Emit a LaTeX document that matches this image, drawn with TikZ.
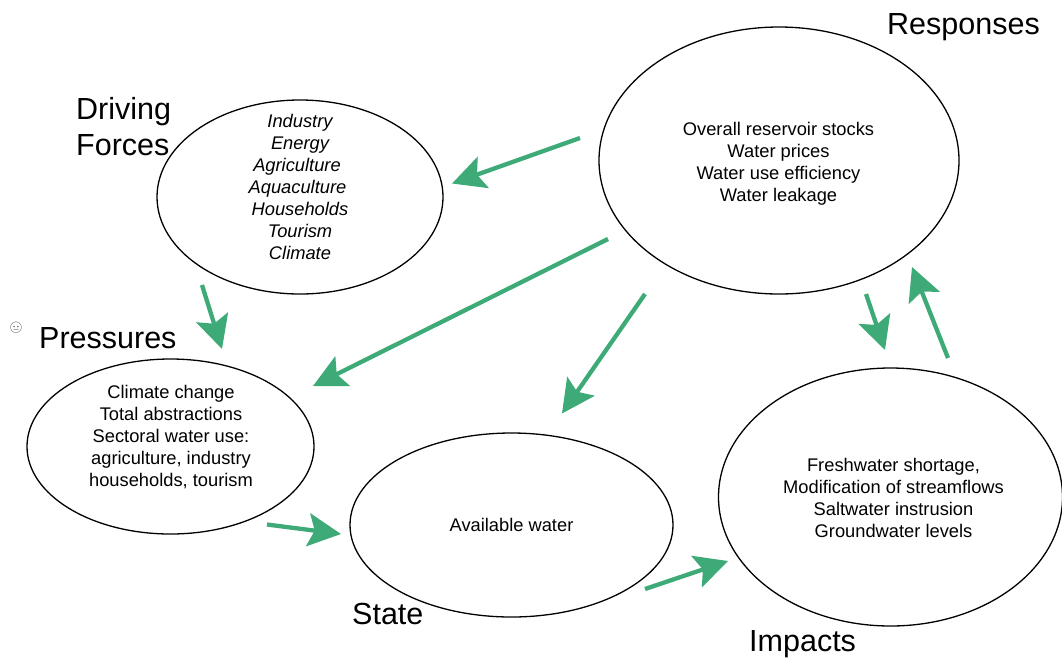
\documentclass[tikz,border=0pt]{standalone}
\usepackage{fontspec}
\setmainfont{Liberation Sans}
\newfontfamily\emojifont{Noto Emoji}
\usetikzlibrary{arrows.meta,shapes.geometric}
\definecolor{grn}{RGB}{62,170,120}
\tikzset{
  blob/.style={draw=black,line width=1.3pt,ellipse,inner sep=0pt,outer sep=0pt,align=center,
    font=\fontsize{18.3}{22}\selectfont},
  head/.style={font=\fontsize{30.5}{36}\selectfont,align=left,inner sep=0pt,anchor=north west},
  flow/.style={draw=grn,line width=4.3pt,-{Stealth[length=33pt,width=33pt,inset=6.5pt]}}
}
\begin{document}
\begin{tikzpicture}[x=1pt,y=-1pt]
\useasboundingbox (0,0) rectangle (1062,657);
\node[blob,minimum width=286pt,minimum height=194pt] (forces) at (300,197) {};
\node[font=\fontsize{18.3}{22}\selectfont\itshape,align=center] (forcestext) at (300,187) {Industry\\Energy\\Agriculture\kern6pt\\Aquaculture\kern5pt\\Households\\Tourism\\Climate};
\node[blob,minimum width=360pt,minimum height=267pt] (responses) at (779,160.5) {};
\node[font=\fontsize{18.3}{22}\selectfont,align=center] (responsestext) at (778.5,164) {Overall reservoir stocks\\Water prices\\Water use efficiency\\Water leakage};
\node[blob,minimum width=287pt,minimum height=175pt] (pressures) at (170.5,446.5) {};
\node[font=\fontsize{18.3}{22}\selectfont,align=center] (pressurestext) at (171,437) {Climate change\\Total abstractions\\Sectoral water use:\\agriculture, industry\\households, tourism};
\node[blob,minimum width=323pt,minimum height=184pt] (state) at (511.5,525) {Available water};
\node[blob,minimum width=344pt,minimum height=258pt] (impacts) at (890.5,497) {};
\node[font=\fontsize{18.3}{22}\selectfont,align=center] (impactstext) at (893.5,498) {Freshwater shortage,\\Modification of streamflows\\Saltwater instrusion\\Groundwater levels};
\node[head] (hresp) at (887,13) {Responses};
\node[head] (hforces) at (76,97) {Driving\\Forces};
\node[head] (hpress) at (39,327) {Pressures};
\node[head] (hstate) at (352,603) {State};
\node[head] (himp) at (749,630.5) {Impacts};
\node[font=\emojifont\fontsize{11}{11}\selectfont,inner sep=0pt,text=black!70] (face) at (16,328) {😐};
\coordinate (a1) at (580,138); \coordinate (b1) at (452,183.5);
\coordinate (a2) at (608,239); \coordinate (b2) at (313,386);
\coordinate (a3) at (645,294); \coordinate (b3) at (562,413.5);
\coordinate (a4) at (202,285); \coordinate (b4) at (222,349);
\coordinate (a5) at (866,294); \coordinate (b5) at (885,350);
\coordinate (a6) at (948,358); \coordinate (b6) at (912,267);
\coordinate (a7) at (267,524.5); \coordinate (b7) at (341,534);
\coordinate (a8) at (645,589); \coordinate (b8) at (728,561);
\foreach \i in {1,...,8} \draw[flow] (a\i) -- (b\i);
\end{tikzpicture}
\end{document}
